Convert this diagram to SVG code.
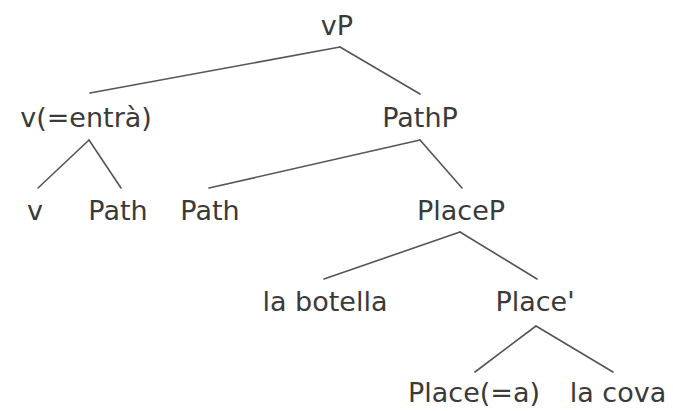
<svg xmlns="http://www.w3.org/2000/svg" width="673" height="411" viewBox="0 0 673 411">
<style>
text{font-family:"DejaVu Sans","Liberation Sans",sans-serif;font-size:27px;fill:#3a3a3a;text-anchor:middle}
.e line{stroke:#555;stroke-width:1.6;stroke-linecap:round}
</style>
<rect width="673" height="411" fill="#fff"/>
<g class="e" id="edges">
<line x1="340" y1="47" x2="90" y2="93"/>
<line x1="340" y1="47" x2="420" y2="94"/>
<line x1="89" y1="140" x2="38" y2="188"/>
<line x1="89" y1="140" x2="121" y2="188"/>
<line x1="420" y1="140" x2="209" y2="188"/>
<line x1="420" y1="140" x2="462" y2="188"/>
<line x1="460" y1="232" x2="324" y2="279"/>
<line x1="460" y1="232" x2="537" y2="279"/>
<line x1="536" y1="326" x2="475" y2="372"/>
<line x1="536" y1="326" x2="613" y2="372"/>
</g>
<g id="vP"><text x="337" y="35">vP</text></g>
<g id="v-entra"><text x="86" y="127">v(=entrà)</text></g>
<g id="PathP"><text x="420" y="127">PathP</text></g>
<g id="v"><text x="35" y="220">v</text></g>
<g id="Path1"><text x="118" y="220">Path</text></g>
<g id="Path2"><text x="210" y="220">Path</text></g>
<g id="PlaceP"><text x="461" y="220">PlaceP</text></g>
<g id="la-botella"><text x="325" y="311">la botella</text></g>
<g id="PlaceBar"><text x="535" y="311">Place'</text></g>
<g id="Place-a"><text x="474" y="402">Place(=a)</text></g>
<g id="la-cova"><text x="618" y="402">la cova</text></g>
</svg>
